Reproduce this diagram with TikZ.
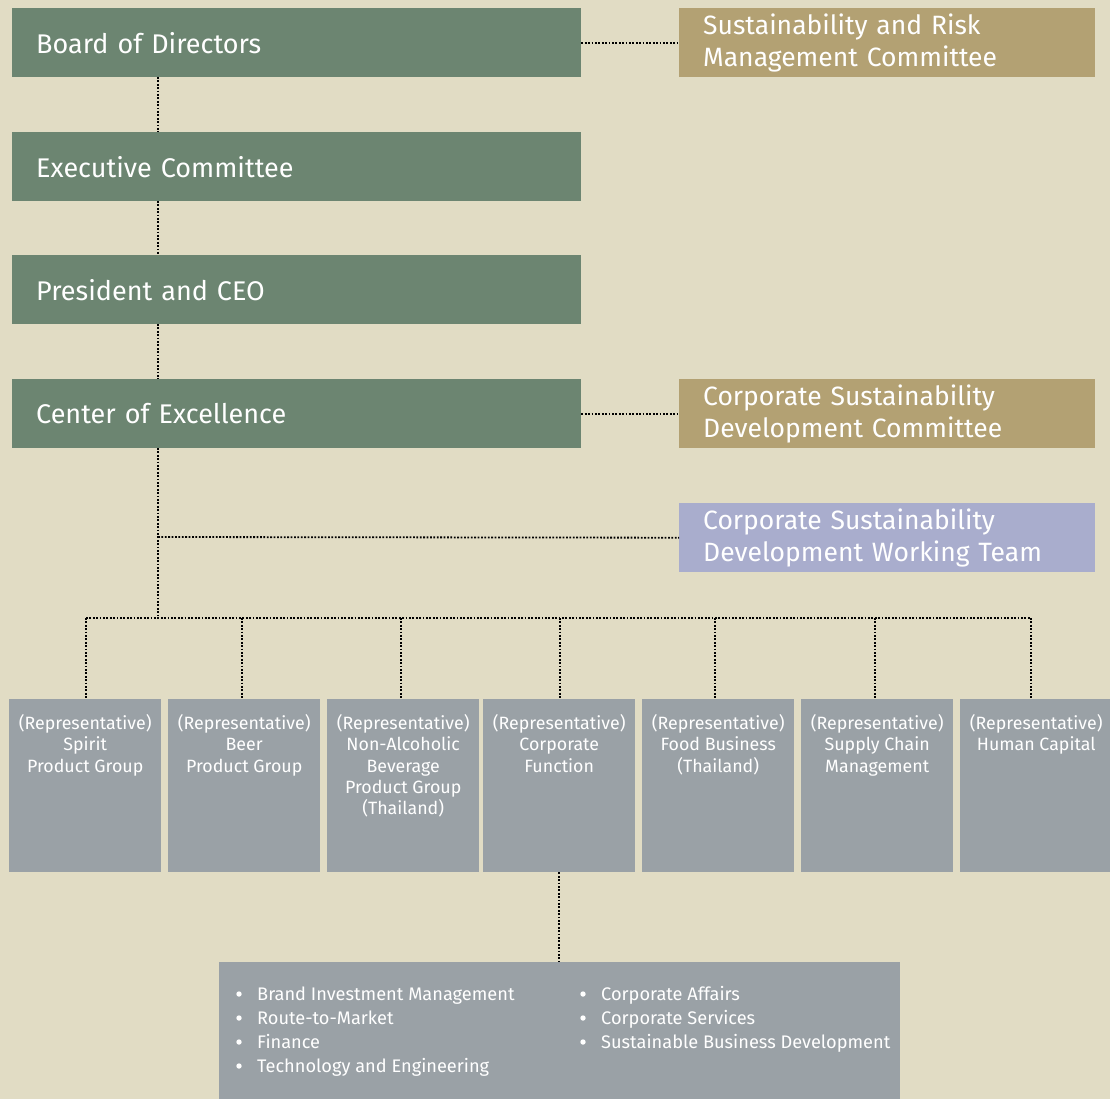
\documentclass[tikz,border=0pt]{standalone}
\usepackage{fontspec}
\setmainfont{Fira Sans}
\definecolor{bg}{HTML}{E1DCC4}
\definecolor{boxgreen}{HTML}{6C8571}
\definecolor{boxgold}{HTML}{B3A173}
\definecolor{boxlav}{HTML}{A9ADCD}
\definecolor{boxgrey}{HTML}{9AA1A6}
\tikzset{
  gbox/.style={fill=boxgreen, text=white, anchor=north west, minimum height=69pt,
    inner xsep=24pt, inner ysep=0pt, text width=521pt, align=left,
    font=\fontsize{27}{32}\selectfont},
  abox/.style={anchor=north west, minimum height=69pt, text=white,
    inner xsep=24pt, inner ysep=0pt, text width=368pt, align=left,
    font=\fontsize{26.5}{32}\selectfont},
  rbox/.style={fill=boxgrey, anchor=north west, minimum width=152pt, minimum height=173pt, inner sep=0pt},
  rtext/.style={anchor=north, text=white, align=center, inner sep=0pt,
    font=\fontsize{17.8}{21.4}\selectfont},
  litem/.style={anchor=base west, text=white, inner sep=0pt, font=\fontsize{18.2}{24}\selectfont},
  bulletdot/.style={fill=white},
  dotline/.style={line width=1.8pt, dash pattern=on 1.8pt off 1.6pt, black},
}
\begin{document}
\begin{tikzpicture}[x=1pt,y=-1pt]
\useasboundingbox (0,0) rectangle (1110,1099);
\fill[bg] (0,0) rectangle (1110,1099);
% green boxes
\node[gbox] (bod) at (12,8) {Board of Directors};
\node[gbox] (exec) at (12,132) {Executive Committee};
\node[gbox] (ceo) at (12,255) {President and CEO};
\node[gbox] (coe) at (12,379) {Center of Excellence};
% side boxes
\node[abox, fill=boxgold] (srmc) at (679,8) {Sustainability and Risk\\Management Committee};
\node[abox, fill=boxgold] (csdc) at (679,379) {Corporate Sustainability\\Development Committee};
\node[abox, fill=boxlav] (csdw) at (679,503) {Corporate Sustainability\\Development Working Team};
% representative boxes
\node[rbox] (r1) at (9,699) {};
\node[rbox] (r2) at (168,699) {};
\node[rbox] (r3) at (327,699) {};
\node[rbox] (r4) at (483,699) {};
\node[rbox] (r5) at (642,699) {};
\node[rbox] (r6) at (801,699) {};
\node[rbox] (r7) at (960,699) {};
\node[rtext] (t1) at ([yshift=-15pt]r1.north) {(Representative)\\Spirit\\Product Group};
\node[rtext] (t2) at ([yshift=-15pt]r2.north) {(Representative)\\Beer\\Product Group};
\node[rtext] (t3) at ([yshift=-15pt]r3.north) {(Representative)\\Non-Alcoholic\\Beverage\\Product Group\\(Thailand)};
\node[rtext] (t4) at ([yshift=-15pt]r4.north) {(Representative)\\Corporate\\Function};
\node[rtext] (t5) at ([yshift=-15pt]r5.north) {(Representative)\\Food Business\\(Thailand)};
\node[rtext] (t6) at ([yshift=-15pt]r6.north) {(Representative)\\Supply Chain\\Management};
\node[rtext] (t7) at ([yshift=-15pt]r7.north) {(Representative)\\Human Capital};
% bottom box
\node[fill=boxgrey, anchor=north west, minimum width=681pt, minimum height=137pt, inner sep=0pt] (func) at (219,962) {};
\foreach \t [count=\i] in {Brand Investment Management, Route-to-Market, Finance, Technology and Engineering}{
  \fill[bulletdot] (239,{994+24*(\i-1)}) circle (2.7pt);
  \node[litem] (la\i) at (257,{1000+24*(\i-1)}) {\t};
}
\foreach \t [count=\i] in {Corporate Affairs, Corporate Services, Sustainable Business Development}{
  \fill[bulletdot] (583,{994+24*(\i-1)}) circle (2.7pt);
  \node[litem] (lb\i) at (601,{1000+24*(\i-1)}) {\t};
}
% connectors
\draw[dotline] (bod.east) -- (srmc.west);
\draw[dotline] (coe.east) -- (csdc.west);
\draw[dotline] (158,77) -- (158,132);
\draw[dotline] (158,201) -- (158,255);
\draw[dotline] (158,324) -- (158,379);
\coordinate (branch) at (158,537);
\coordinate (bus) at (158,618);
\draw[dotline] (158,448) -- (bus);
\draw[dotline] (branch) -- (csdw.west);
\coordinate (busL) at (86,618);
\coordinate (busR) at (1031,618);
\draw[dotline] (busL) -- (busR);
\draw[dotline] (busL) -- (86,699);
\draw[dotline] (242,618) -- (242,699);
\draw[dotline] (401,618) -- (401,699);
\draw[dotline] (560,618) -- (560,699);
\draw[dotline] (715,618) -- (715,699);
\draw[dotline] (875,618) -- (875,699);
\draw[dotline] (busR) -- (1031,699);
\draw[dotline] (r4.south) -- (func.north -| r4.south);
\end{tikzpicture}
\end{document}
